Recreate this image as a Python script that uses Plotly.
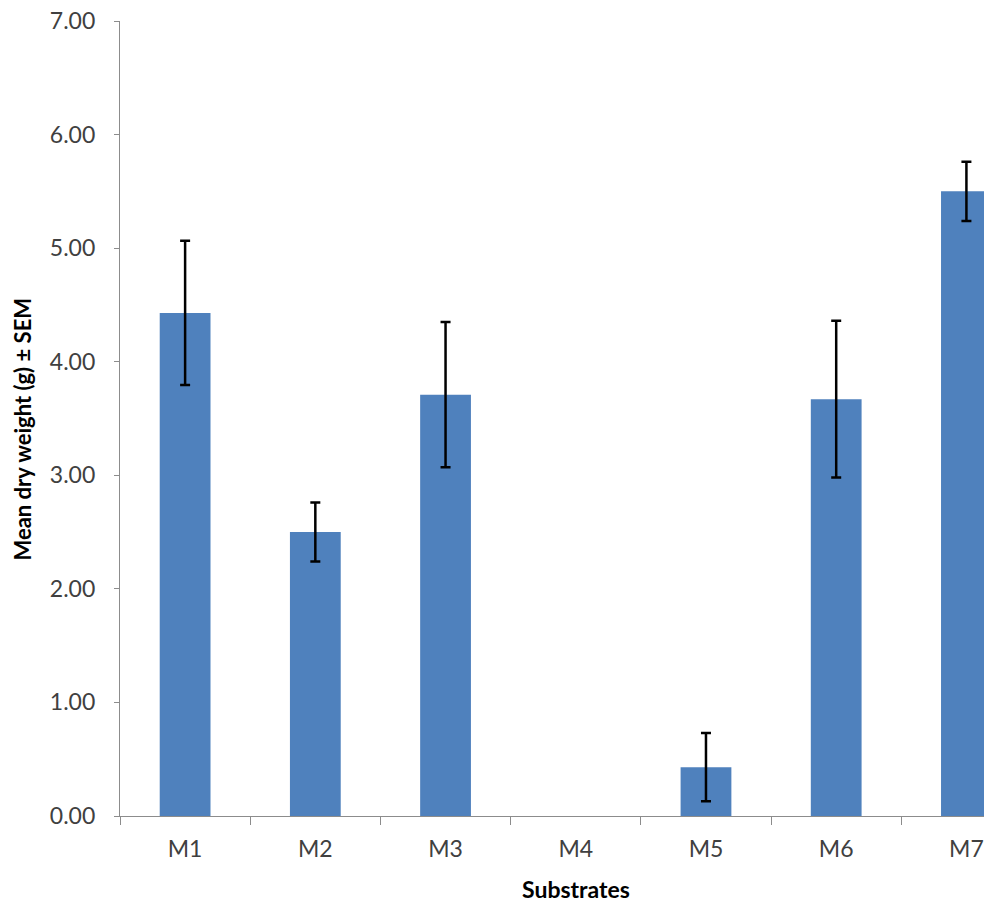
import plotly.graph_objects as go

substrates = ["M1", "M2", "M3", "M4", "M5", "M6", "M7"]
# M4 had no growth, nothing is drawn for it
mean_dry_weight = [4.43, 2.50, 3.71, None, 0.43, 3.67, 5.50]
sem = [0.635, 0.26, 0.64, None, 0.30, 0.69, 0.26]
y_ticks = [0, 1, 2, 3, 4, 5, 6, 7]

font_name = "Lato, Open Sans, sans-serif"
axis_grey = "#8c8c8c"

fig = go.Figure(go.Bar(
    x=substrates,
    y=mean_dry_weight,
    width=0.39,
    marker=dict(color="#4f81bd", line=dict(width=0)),
    error_y=dict(type="data", array=sem, visible=True,
                 color="black", thickness=2.5, width=5),
))

fig.update_layout(
    width=984, height=903,
    margin=dict(l=119.5, r=0, t=21, b=87),
    plot_bgcolor="white", paper_bgcolor="white",
    showlegend=False,
    font=dict(family=font_name, size=23, color="#404040"),
)

# the right part of the chart is cut off, like in the original picture
fig.update_xaxes(
    range=[-0.5, 6.135],
    showline=True, linecolor=axis_grey, linewidth=1.3,
    ticks="outside", tickson="boundaries", ticklen=8, tickcolor=axis_grey,
    ticklabelstandoff=12,
    showgrid=False,
)
fig.update_yaxes(
    range=[0, 7],
    tickvals=y_ticks,
    tickformat=".2f",
    showline=True, linecolor=axis_grey, linewidth=1.3,
    ticks="outside", ticklen=5, tickcolor=axis_grey,
    ticklabelstandoff=14, ticklabeloverflow="allow",
    showgrid=False, zeroline=False,
)

fig.add_annotation(
    x="M4", xref="x", y=-0.092, yref="paper", yanchor="middle",
    text="<b>Substrates</b>", showarrow=False,
    font=dict(size=23, color="black"),
)
fig.add_annotation(
    x=-0.1128, xref="paper", y=0.4868, yref="paper",
    xanchor="center", yanchor="middle", textangle=-90,
    text="<b>Mean dry weight (g) ± SEM</b>", showarrow=False,
    font=dict(size=22, color="black"),
)

# drop the default 8px page margin so the figure fills the window
fig.write_html("out.html", config={"displayModeBar": False},
               post_script="document.body.style.margin='0px';")
